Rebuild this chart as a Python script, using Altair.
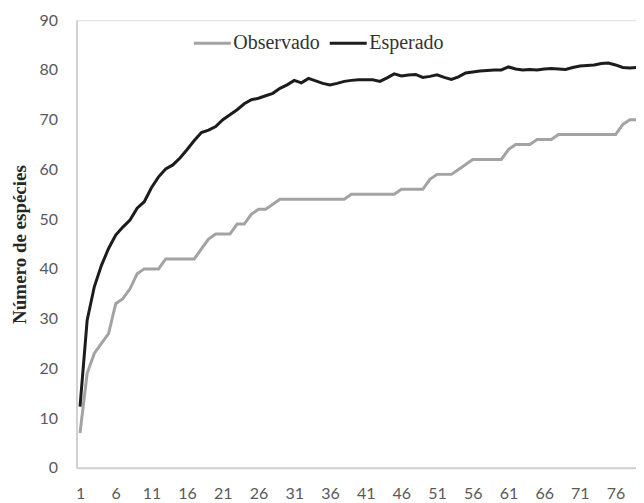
import altair as alt
import pandas as pd

muestras = list(range(1, 81))

observado = [7, 19, 23, 25, 27, 33, 34, 36, 39, 40,
             40, 40, 42, 42, 42, 42, 42, 44, 46, 47,
             47, 47, 49, 49, 51, 52, 52, 53, 54, 54,
             54, 54, 54, 54, 54, 54, 54, 54, 55, 55,
             55, 55, 55, 55, 55, 56, 56, 56, 56, 58,
             59, 59, 59, 60, 61, 62, 62, 62, 62, 62,
             64, 65, 65, 65, 66, 66, 66, 67, 67, 67,
             67, 67, 67, 67, 67, 67, 69, 70, 70, 72]

esperado = [12.3, 29.7, 36.4, 40.7, 44.1, 46.8, 48.4, 49.8, 52.2, 53.5,
            56.3, 58.5, 60.1, 60.9, 62.3, 64.0, 65.8, 67.4, 67.9, 68.6,
            70.0, 71.0, 72.0, 73.2, 74.0, 74.3, 74.8, 75.3, 76.3, 77.0,
            77.9, 77.4, 78.3, 77.8, 77.3, 77.0, 77.3, 77.7, 77.9, 78.0,
            78.0, 78.0, 77.7, 78.4, 79.2, 78.8, 79.0, 79.1, 78.5, 78.7,
            79.0, 78.5, 78.1, 78.6, 79.4, 79.6, 79.8, 79.9, 80.0, 80.0,
            80.6, 80.2, 80.0, 80.1, 80.0, 80.2, 80.3, 80.2, 80.1, 80.5,
            80.8, 80.9, 81.0, 81.3, 81.4, 81.0, 80.5, 80.4, 80.5, 81.1]

series = ["Observado", "Esperado"]
x_ticks = [1, 6, 11, 16, 21, 26, 31, 36, 41, 46, 51, 56, 61, 66, 71, 76]
y_ticks = [0, 10, 20, 30, 40, 50, 60, 70, 80, 90]

df = pd.DataFrame({
    "muestra": muestras * 2,
    "valor": observado + esperado,
    "serie": [series[0]] * len(muestras) + [series[1]] * len(muestras),
})

chart = alt.Chart(df).mark_line(strokeWidth=3, clip=True).encode(
    x=alt.X("muestra:Q",
            scale=alt.Scale(domain=[0.5, 78.86], nice=False, zero=False),
            axis=alt.Axis(values=x_ticks, title=None, grid=False, ticks=False,
                          labelFont="Lato", labelFontSize=16, labelColor="#595959",
                          labelPadding=18, domainColor="#d0d0d0", domainWidth=2,
                          labelFlush=False)),
    y=alt.Y("valor:Q",
            scale=alt.Scale(domain=[0, 90], nice=False),
            axis=alt.Axis(values=y_ticks, title="Número de espécies", grid=False, ticks=False,
                          labelFont="Lato", labelFontSize=16, labelColor="#595959",
                          labelPadding=19, domainColor="#d0d0d0", domainWidth=2,
                          titleFont="Liberation Serif", titleFontSize=19, titleFontWeight="bold",
                          titleColor="#262626", titleX=-56.5, titleBaseline="middle")),
    color=alt.Color("serie:N",
                    scale=alt.Scale(domain=series, range=["#a3a3a3", "#1c1c1c"]),
                    legend=alt.Legend(title=None, orient="none", direction="horizontal",
                                      legendX=116, legendY=3, padding=0,
                                      symbolType="stroke", symbolSize=1369, symbolStrokeWidth=3,
                                      labelFont="Liberation Serif", labelFontSize=20,
                                      labelColor="#333333", labelOffset=1, columnPadding=3)),
).properties(
    width=560,
    height=448,
    autosize=alt.AutoSizeParams(type="none"),
    padding={"left": 68.5, "top": 12, "right": 0, "bottom": 34},
).configure_view(stroke=None).configure(background="white")

chart.save("out.html", embed_options={"renderer": "svg", "actions": False})
